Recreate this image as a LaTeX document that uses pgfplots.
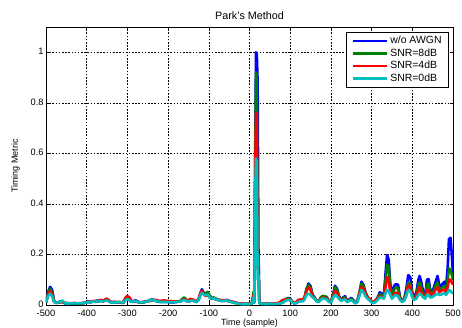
\documentclass[border=0pt]{standalone}
\usepackage{pgfplots}
\pgfplotsset{compat=1.18}
\usepackage{pgfplotstable}
\usepackage{fontspec}
\setmainfont{Liberation Sans}
\usetikzlibrary{calc}
\definecolor{mblue}{rgb}{0,0,1}
\definecolor{mgreen}{rgb}{0,0.5,0}
\definecolor{mred}{rgb}{1,0,0}
\definecolor{mcyan}{rgb}{0,0.75,0.75}
\pgfplotstableread{
x b g r c
-500 0.01 0.01 0.01 0.01
-495 0.05 0.045 0.04 0.035
-490 0.072 0.065 0.055 0.045
-485 0.06 0.05 0.045 0.035
-480 0.015 0.015 0.012 0.012
-475 0.008 0.008 0.009 0.008
-470 0.01 0.01 0.01 0.01
-465 0.012 0.015 0.01 0.012
-460 0.015 0.012 0.012 0.018
-455 0.008 0.008 0.01 0.01
-450 0.005 0.006 0.008 0.006
-440 0.005 0.006 0.007 0.006
-430 0.006 0.006 0.008 0.007
-420 0.005 0.006 0.007 0.006
-410 0.006 0.007 0.008 0.007
-400 0.012 0.01 0.01 0.01
-395 0.015 0.012 0.014 0.012
-390 0.01 0.012 0.012 0.01
-385 0.016 0.014 0.015 0.014
-380 0.012 0.014 0.016 0.012
-375 0.018 0.016 0.015 0.016
-370 0.014 0.015 0.018 0.014
-365 0.02 0.018 0.02 0.016
-360 0.015 0.014 0.016 0.015
-355 0.018 0.02 0.022 0.016
-350 0.022 0.02 0.025 0.018
-345 0.014 0.016 0.018 0.014
-340 0.01 0.012 0.012 0.01
-330 0.012 0.01 0.012 0.01
-320 0.01 0.012 0.01 0.011
-310 0.008 0.01 0.012 0.01
-305 0.02 0.022 0.028 0.018
-300 0.028 0.03 0.036 0.024
-295 0.02 0.022 0.03 0.018
-290 0.012 0.014 0.016 0.012
-285 0.016 0.014 0.012 0.014
-280 0.018 0.016 0.014 0.015
-275 0.014 0.012 0.012 0.012
-270 0.01 0.01 0.011 0.01
-260 0.012 0.01 0.012 0.011
-250 0.014 0.016 0.014 0.014
-245 0.018 0.02 0.016 0.018
-240 0.022 0.02 0.018 0.02
-235 0.02 0.018 0.02 0.018
-230 0.016 0.018 0.02 0.016
-225 0.014 0.016 0.018 0.015
-220 0.012 0.014 0.016 0.012
-210 0.014 0.012 0.018 0.012
-200 0.012 0.014 0.016 0.012
-190 0.01 0.012 0.015 0.011
-180 0.012 0.014 0.013 0.012
-170 0.014 0.016 0.015 0.014
-165 0.02 0.024 0.02 0.018
-160 0.024 0.03 0.022 0.02
-155 0.016 0.02 0.018 0.015
-150 0.014 0.016 0.02 0.014
-145 0.018 0.016 0.024 0.016
-140 0.02 0.018 0.022 0.018
-135 0.016 0.015 0.018 0.014
-130 0.012 0.014 0.015 0.012
-125 0.02 0.022 0.025 0.02
-120 0.045 0.05 0.05 0.04
-117 0.062 0.055 0.055 0.048
-113 0.05 0.048 0.045 0.042
-108 0.04 0.045 0.035 0.038
-103 0.048 0.052 0.04 0.042
-98 0.035 0.038 0.03 0.03
-93 0.025 0.028 0.024 0.024
-88 0.028 0.03 0.026 0.026
-83 0.024 0.026 0.022 0.024
-78 0.022 0.02 0.02 0.02
-70 0.016 0.018 0.02 0.016
-62 0.018 0.016 0.018 0.016
-55 0.02 0.018 0.016 0.018
-50 0.016 0.015 0.016 0.014
-45 0.014 0.012 0.014 0.012
-40 0.012 0.01 0.012 0.01
-35 0.01 0.008 0.01 0.008
-30 0.008 0.006 0.007 0.006
-25 0.006 0.005 0.006 0.005
-20 0.005 0.004 0.006 0.004
-15 0.004 0.004 0.005 0.003
-10 0.004 0.004 0.004 0.004
-5 0.005 0.004 0.005 0.004
0 0.005 0.004 0.005 0.004
5 0.006 0.006 0.006 0.005
8 0.01 0.03 0.02 0.015
10 0.02 0.05 0.04 0.03
12 0.01 0.06 0.02 0.01
14 0.6 0.55 0.5 0.45
16 1.0 0.92 0.76 0.58
18 0.99 0.9 0.75 0.57
20 0.88 0.2 0.14 0.1
22 0.22 0.2 0.14 0.12
24 0.02 0.015 0.015 0.012
26 0.005 0.005 0.006 0.005
30 0.005 0.005 0.006 0.005
40 0.004 0.004 0.005 0.004
50 0.005 0.004 0.006 0.005
60 0.004 0.005 0.006 0.004
70 0.005 0.006 0.008 0.005
75 0.006 0.008 0.012 0.006
80 0.01 0.012 0.018 0.008
85 0.015 0.016 0.022 0.012
90 0.022 0.024 0.02 0.018
95 0.028 0.026 0.022 0.02
100 0.025 0.022 0.018 0.02
105 0.012 0.014 0.012 0.01
110 0.006 0.008 0.01 0.006
115 0.008 0.01 0.012 0.008
120 0.015 0.016 0.02 0.012
125 0.02 0.018 0.022 0.015
130 0.016 0.018 0.02 0.014
135 0.025 0.028 0.03 0.02
140 0.06 0.065 0.055 0.04
145 0.085 0.08 0.07 0.045
150 0.075 0.07 0.06 0.04
155 0.04 0.038 0.035 0.03
160 0.03 0.028 0.025 0.025
165 0.015 0.016 0.018 0.014
170 0.012 0.015 0.014 0.012
175 0.025 0.03 0.022 0.02
180 0.035 0.036 0.03 0.026
185 0.033 0.034 0.028 0.024
190 0.03 0.032 0.025 0.022
195 0.015 0.016 0.014 0.012
200 0.012 0.01 0.014 0.01
205 0.04 0.035 0.03 0.028
210 0.076 0.07 0.055 0.04
215 0.065 0.06 0.05 0.035
220 0.035 0.032 0.03 0.025
225 0.02 0.022 0.02 0.016
230 0.03 0.028 0.022 0.02
235 0.035 0.03 0.025 0.022
240 0.015 0.016 0.014 0.012
245 0.022 0.02 0.018 0.016
250 0.028 0.025 0.02 0.02
255 0.02 0.018 0.015 0.014
260 0.008 0.01 0.008 0.006
265 0.015 0.016 0.012 0.012
270 0.045 0.05 0.045 0.035
275 0.092 0.085 0.07 0.06
280 0.08 0.075 0.065 0.05
285 0.05 0.048 0.045 0.035
290 0.03 0.032 0.03 0.025
295 0.02 0.022 0.025 0.018
300 0.012 0.014 0.015 0.01
305 0.008 0.01 0.012 0.008
310 0.015 0.018 0.02 0.012
315 0.03 0.028 0.025 0.02
320 0.05 0.042 0.035 0.03
325 0.045 0.04 0.03 0.028
330 0.035 0.03 0.028 0.025
335 0.14 0.11 0.08 0.05
338 0.198 0.16 0.11 0.06
342 0.18 0.15 0.1 0.055
346 0.08 0.07 0.05 0.04
350 0.04 0.035 0.03 0.025
355 0.075 0.06 0.04 0.035
360 0.083 0.07 0.05 0.04
365 0.08 0.065 0.045 0.035
370 0.03 0.025 0.02 0.02
375 0.015 0.016 0.015 0.012
380 0.025 0.022 0.02 0.018
385 0.06 0.05 0.04 0.035
390 0.118 0.09 0.08 0.06
395 0.11 0.085 0.07 0.055
400 0.05 0.045 0.04 0.03
405 0.03 0.025 0.025 0.02
410 0.05 0.04 0.03 0.025
415 0.1 0.08 0.06 0.04
418 0.115 0.09 0.07 0.045
422 0.09 0.07 0.05 0.04
427 0.05 0.04 0.035 0.03
432 0.04 0.035 0.03 0.025
436 0.1 0.08 0.06 0.04
440 0.103 0.085 0.06 0.04
444 0.06 0.05 0.04 0.03
448 0.05 0.04 0.035 0.03
452 0.065 0.055 0.045 0.035
457 0.09 0.075 0.06 0.04
462 0.115 0.09 0.07 0.045
466 0.08 0.065 0.05 0.04
470 0.075 0.065 0.055 0.04
475 0.085 0.07 0.06 0.045
479 0.092 0.075 0.06 0.045
483 0.07 0.06 0.05 0.04
487 0.15 0.1 0.07 0.05
490 0.26 0.145 0.1 0.06
494 0.266 0.14 0.1 0.055
497 0.2 0.12 0.09 0.05
500 0.12 0.1 0.08 0.045
}\parkdata
\begin{document}
\begin{tikzpicture}
\begin{axis}[
  name=ax,
  scale only axis,
  width=407bp, height=278bp,
  xmin=-500, xmax=500, ymin=0, ymax=1.1,
  xtick={-500,-400,...,500},
  ytick={0,0.2,0.4,0.6,0.8,1},
  yticklabels={0,0.2,0.4,0.6,0.8,1},
  xticklabels={-500,-400,-300,-200,-100,0,100,200,300,400,500},
  tick align=inside,
  major tick length=3bp,
  tick style={black, line width=0.5pt},
  axis line style={black, line width=0.6pt},
  grid=major,
  major grid style={black, line width=0.6pt, dash pattern=on 1.6pt off 1.6pt},
  ticklabel style={font=\fontsize{9.3}{11}\selectfont},
  /pgf/number format/assume math mode=true,
  xticklabel style={yshift=-1.5bp},
  yticklabel style={xshift=1bp, yshift=1bp},
  title={Park's Method},
  title style={font=\fontsize{10.8}{12}\selectfont, yshift=-2bp},
  ylabel={Timing Metric},
  ylabel style={font=\fontsize{9}{10}\selectfont, yshift=4bp},
  xlabel={Time (sample)},
  xlabel style={font=\fontsize{9}{10}\selectfont, yshift=4bp},
  legend cell align=left,
  legend style={at={(rel axis cs:0.99,0.982)}, anchor=north east,
    draw=black, line width=0.6pt, font=\fontsize{10.5}{12}\selectfont,
    inner xsep=5bp, inner ysep=2bp, row sep=-0.5bp},
  legend image code/.code={\draw[#1, line width=2.6pt] (0bp,0bp) -- (34bp,0bp);},
]
\addplot[mblue, line width=2.6pt, line join=round] table[x=x,y=b] {\parkdata};
\addplot[mgreen, line width=2.6pt, line join=round] table[x=x,y=g] {\parkdata};
\addplot[mred, line width=2.6pt, line join=round] table[x=x,y=r] {\parkdata};
\addplot[mcyan, line width=2.6pt, line join=round] table[x=x,y=c] {\parkdata};
\legend{w/o AWGN, SNR=8dB, SNR=4dB, SNR=0dB}
\end{axis}
\pgfresetboundingbox
\path ($(ax.south west)+(-46bp,-23bp)$) rectangle ($(ax.north east)+(9bp,27bp)$);
\end{tikzpicture}
\end{document}
